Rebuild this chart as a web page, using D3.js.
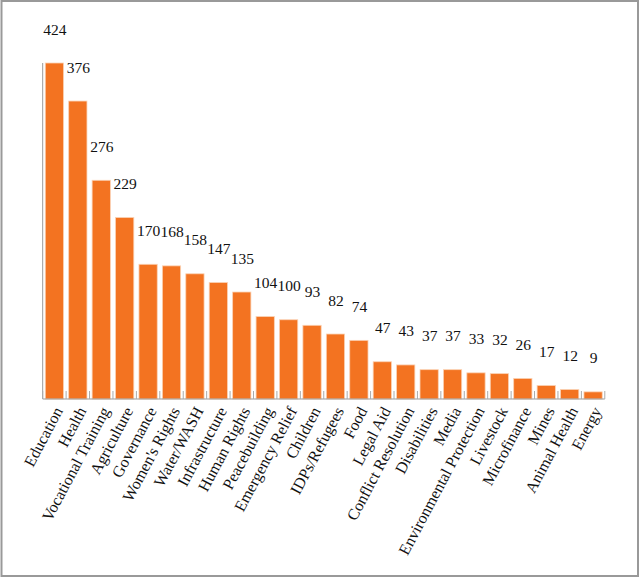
<!DOCTYPE html>
<html>
<head>
<meta charset="utf-8">
<script src="https://cdn.jsdelivr.net/npm/d3@7"></script>
<style>
  body { margin: 0; background: #fff; }
  svg { display: block; }
</style>
</head>
<body>
<script>
// sectors, ranked by count
const categories = ["Education", "Health", "Vocational Training", "Agriculture", "Governance",
  "Women's Rights", "Water/WASH", "Infrastructure", "Human Rights", "Peacebuilding",
  "Emergency Relief", "Children", "IDPs/Refugees", "Food", "Legal Aid", "Conflict Resolution",
  "Disabilities", "Media", "Environmental Protection", "Livestock", "Microfinance", "Mines",
  "Animal Health", "Energy"];
const counts = [424, 376, 276, 229, 170, 168, 158, 147, 135, 104, 100, 93, 82, 74, 47, 43,
  37, 37, 33, 32, 26, 17, 12, 9];

const W = 640, H = 578;
const baseY = 399, topY = 63;

const svg = d3.select('body').append('svg')
  .attr('width', W)
  .attr('height', H);

// frame
svg.append('rect')
  .attr('x', 1.5).attr('y', 1)
  .attr('width', 636.5).attr('height', 575)
  .attr('fill', 'none')
  .attr('stroke', '#999')
  .attr('stroke-width', 2);

const x = d3.scaleBand()
  .domain(categories)
  .range([42.7, 604.8])
  .paddingInner(0.22)
  .paddingOuter(0.11);

const y = d3.scaleLinear()
  .domain([0, d3.max(counts)])
  .range([baseY, topY]);

const data = categories.map((c, i) => ({ name: c, value: counts[i] }));

svg.selectAll('rect.bar')
  .data(data)
  .enter()
  .append('rect')
  .classed('bar', true)
  .attr('x', d => x(d.name))
  .attr('y', d => y(d.value))
  .attr('width', x.bandwidth())
  .attr('height', d => baseY - y(d.value))
  .attr('fill', '#f37321')
  .attr('stroke', '#fbd2b4')
  .attr('stroke-width', 0.8);

// axis lines
const step = x.step();
svg.append('line')
  .attr('x1', 42.7).attr('x2', 42.7)
  .attr('y1', topY).attr('y2', baseY)
  .attr('stroke', '#999').attr('stroke-width', 1);
svg.append('line')
  .attr('x1', 42.7).attr('x2', 604.8)
  .attr('y1', baseY).attr('y2', baseY)
  .attr('stroke', '#999').attr('stroke-width', 1.2);
svg.selectAll('line.tick')
  .data(d3.range(categories.length + 1))
  .enter()
  .append('line')
  .classed('tick', true)
  .attr('x1', i => 42.7 + i * step)
  .attr('x2', i => 42.7 + i * step)
  .attr('y1', baseY - 8)
  .attr('y2', baseY)
  .attr('stroke', '#aaa')
  .attr('stroke-width', 1);

// value labels
svg.selectAll('text.value')
  .data(data)
  .enter()
  .append('text')
  .classed('value', true)
  .attr('x', d => x(d.name) + x.bandwidth() / 2 + 0.5)
  .attr('y', d => y(d.value) - 28.5)
  .attr('text-anchor', 'middle')
  .style('font-family', '"Liberation Serif", "Times New Roman", serif')
  .style('font-size', '15.5px')
  .attr('fill', '#111')
  .text(d => d.value);

// category labels
svg.selectAll('text.cat')
  .data(data)
  .enter()
  .append('text')
  .classed('cat', true)
  .attr('transform', d => `translate(${x(d.name) + x.bandwidth() / 2 + 4},${baseY + 9}) rotate(-62)`)
  .attr('text-anchor', 'end')
  .attr('dy', '0.35em')
  .style('font-family', '"Liberation Serif", "Times New Roman", serif')
  .style('font-size', '16px')
  .attr('fill', '#111')
  .text(d => d.name);
</script>
</body>
</html>
